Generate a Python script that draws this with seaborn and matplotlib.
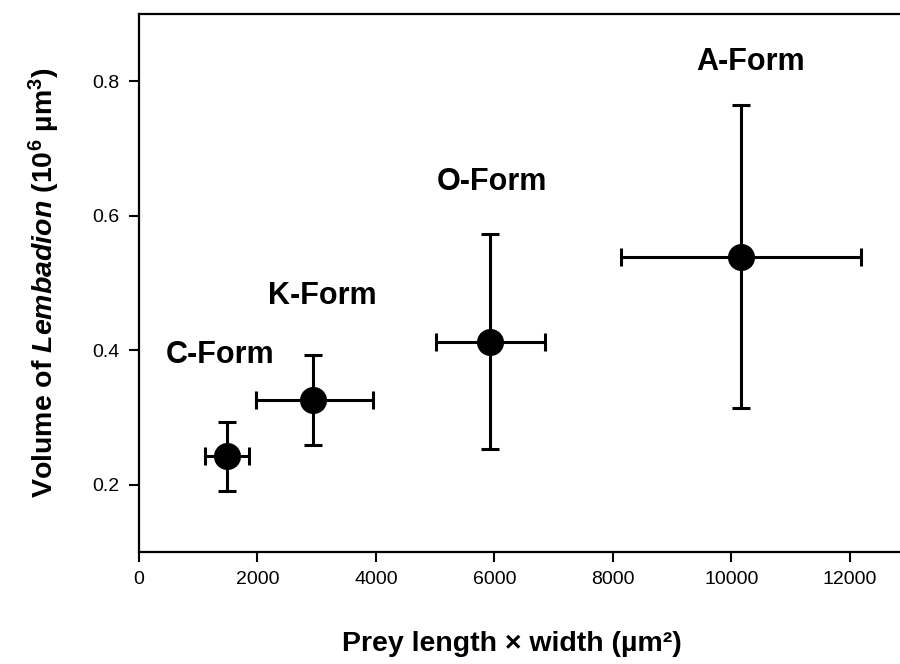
import seaborn as sns
import matplotlib.pyplot as plt
import pandas as pd

# values
forms = ['C-Form', 'K-Form', 'O-Form', 'A-Form']
prey_area = [1485, 2937, 5924, 10160]
area_low = [1114, 1975, 5013, 8135]
area_high = [1857, 3950, 6852, 12186]
volume = [0.243, 0.326, 0.413, 0.539]
vol_low = [0.191, 0.259, 0.253, 0.314]
vol_high = [0.293, 0.393, 0.573, 0.764]

# where the form names sit (data coords)
label_x = [1367, 3089, 5958, 10329]
label_y = [0.393, 0.481, 0.650, 0.828]

sns.set_style('ticks')
plt.rcParams['font.family'] = ['Liberation Sans', 'DejaVu Sans']
plt.rcParams['text.color'] = 'black'
plt.rcParams['axes.labelcolor'] = 'black'
plt.rcParams['xtick.color'] = 'black'
plt.rcParams['ytick.color'] = 'black'
plt.rcParams['axes.edgecolor'] = 'black'
plt.rcParams['mathtext.fontset'] = 'custom'
plt.rcParams['mathtext.rm'] = 'Liberation Sans:bold'
plt.rcParams['mathtext.it'] = 'Liberation Sans:italic:bold'
plt.rcParams['mathtext.bf'] = 'Liberation Sans:bold'

df = pd.DataFrame({'form': forms, 'area': prey_area, 'volume': volume})

fig = plt.figure(figsize=(9, 6.64), dpi=100)
ax = fig.add_axes([0.1544, 0.1687, 0.8456, 0.8102])

xerr = [[a - lo for a, lo in zip(prey_area, area_low)],
        [hi - a for a, hi in zip(prey_area, area_high)]]
yerr = [[v - lo for v, lo in zip(volume, vol_low)],
        [hi - v for v, hi in zip(volume, vol_high)]]
ax.errorbar(prey_area, volume, xerr=xerr, yerr=yerr, fmt='none',
            ecolor='black', elinewidth=2.2, capsize=6.5, capthick=2.2, zorder=2)

sns.scatterplot(data=df, x='area', y='volume', ax=ax, color='black',
                s=380, edgecolor='black', linewidth=0, zorder=3)

for name, tx, ty in zip(forms, label_x, label_y):
    ax.text(tx, ty, name, ha='center', va='center', fontsize=22,
            fontweight='bold', color='black')

ax.set_xlim(0, 12846)
ax.set_ylim(0.1, 0.9)
ax.set_xticks([0, 2000, 4000, 6000, 8000, 10000, 12000])
ax.set_yticks([0.2, 0.4, 0.6, 0.8])
ax.tick_params(direction='out', length=7, width=1.5, labelsize=14, pad=7)

ax.spines['right'].set_visible(False)
for s in ['top', 'left', 'bottom']:
    ax.spines[s].set_linewidth(1.6)

ax.set_xlabel('Prey length \u00d7 width (\u00b5m\u00b2)', fontsize=20.5,
              fontweight='bold')
ax.xaxis.set_label_coords(0.49, -0.146)
ax.set_ylabel('Volume of $\\mathit{Lembadion}$ (10$^{6}$ \u00b5m$^{3}$)',
              fontsize=20.5, fontweight='bold', labelpad=22)

fig.savefig('out.png', dpi=100)
